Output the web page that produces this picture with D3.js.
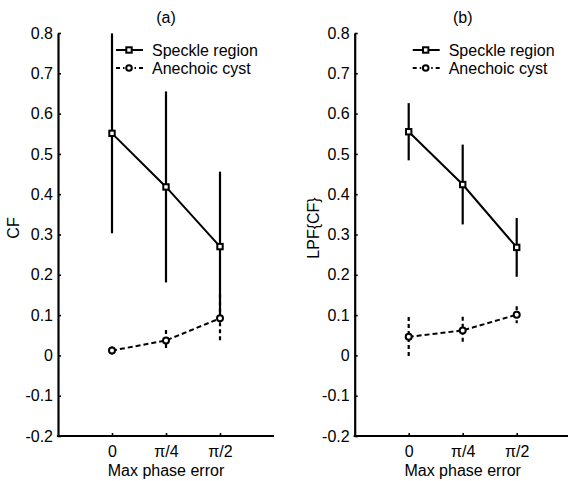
<!DOCTYPE html>
<html>
<head>
<meta charset="utf-8">
<script src="https://cdn.jsdelivr.net/npm/d3@7"></script>
<style>
  html, body { margin: 0; padding: 0; background: #fff; }
  text { font-family: Arial, "Liberation Sans", sans-serif; fill: #000; }
</style>
</head>
<body>
<svg id="chart" width="568" height="481"></svg>
<script>
// ---- data ----
const xPositions = [0, 1, 2];
const xTickLabels = ["0", "\u03c0/4", "\u03c0/2"];
const yTickValues = [-0.2, -0.1, 0, 0.1, 0.2, 0.3, 0.4, 0.5, 0.6, 0.7, 0.8];
const yTickLabels = ["-0.2", "-0.1", "0", "0.1", "0.2", "0.3", "0.4", "0.5", "0.6", "0.7", "0.8"];
const seriesNames = ["Speckle region", "Anechoic cyst"];

// panel (a): CF
const speckleA = [0.551, 0.418, 0.270];
const speckleAErr = [0.248, 0.237, 0.186];
const cystA = [0.012, 0.037, 0.092];
const cystAErr = [0.010, 0.026, 0.060];

// panel (b): LPF{CF}
const speckleB = [0.555, 0.424, 0.268];
const speckleBErr = [0.071, 0.099, 0.073];
const cystB = [0.046, 0.062, 0.101];
const cystBErr = [0.049, 0.034, 0.021];

const panelTitles = ["(a)", "(b)"];
const yLabels = ["CF", "LPF{CF}"];
const xLabel = "Max phase error";

// ---- layout ----
const svg = d3.select("#chart");
const panels = [
  { left: 58, title: panelTitles[0], ylab: yLabels[0], ylabX: 19,
    s: speckleA, se: speckleAErr, c: cystA, ce: cystAErr },
  { left: 354.7, title: panelTitles[1], ylab: yLabels[1], ylabX: 319,
    s: speckleB, se: speckleBErr, c: cystB, ce: cystBErr }
];
const plotTop = 33, plotBottom = 436, plotW = 216;

panels.forEach(p => {
  const x = d3.scaleLinear().domain([-1, 3]).range([p.left, p.left + plotW]);
  const y = d3.scaleLinear().domain([-0.2, 0.8]).range([plotBottom, plotTop]);
  const g = svg.append("g");

  // y axis
  const yAxis = d3.axisLeft(y)
    .tickValues(yTickValues)
    .tickFormat((d, i) => yTickLabels[i])
    .tickSizeInner(-3).tickSizeOuter(0).tickPadding(5);
  const ya = g.append("g").attr("transform", `translate(${p.left},0)`).call(yAxis);
  ya.select(".domain").attr("stroke-width", 2.2).attr("stroke", "#000");
  ya.selectAll(".tick line").attr("stroke-width", 1.6);
  ya.selectAll(".tick text").style("font-size", "16px").attr("fill", "#000");

  // x axis
  const xAxis = d3.axisBottom(x)
    .tickValues(xPositions)
    .tickFormat((d, i) => xTickLabels[i])
    .tickSizeInner(-3).tickSizeOuter(0).tickPadding(10);
  const xa = g.append("g").attr("transform", `translate(0,${plotBottom})`).call(xAxis);
  xa.select(".domain").attr("stroke-width", 2.2).attr("stroke", "#000")
    .attr("d", `M${p.left - 1.1},0H${p.left + plotW}`);
  xa.selectAll(".tick line").attr("stroke-width", 1.6);
  xa.selectAll(".tick text").style("font-size", "16px").attr("fill", "#000");

  // title
  g.append("text").attr("x", (p.left + p.left + plotW) / 2).attr("y", 23)
    .attr("text-anchor", "middle").style("font-size", "16px").text(p.title);
  // x label
  g.append("text").attr("x", x(1)).attr("y", 476)
    .attr("text-anchor", "middle").style("font-size", "16px").text(xLabel);
  // y label
  g.append("text").attr("transform", `translate(${p.ylabX},228) rotate(-90)`)
    .attr("text-anchor", "middle").style("font-size", "16px").text(p.ylab);

  // error bars
  g.selectAll(".errS").data(xPositions).join("line")
    .attr("x1", d => x(d)).attr("x2", d => x(d))
    .attr("y1", (d, i) => y(p.s[i] + p.se[i]))
    .attr("y2", (d, i) => y(p.s[i] - p.se[i]))
    .attr("stroke", "#000").attr("stroke-width", 2.2);
  g.selectAll(".errC").data(xPositions).join("line")
    .attr("x1", d => x(d)).attr("x2", d => x(d))
    .attr("y1", (d, i) => y(p.c[i] + p.ce[i]))
    .attr("y2", (d, i) => y(p.c[i] - p.ce[i]))
    .attr("stroke", "#000").attr("stroke-width", 2.2).attr("stroke-dasharray", "4,3");

  // lines
  const line = d3.line().x((d, i) => x(xPositions[i])).y(d => y(d));
  g.append("path").attr("d", line(p.s)).attr("fill", "none")
    .attr("stroke", "#000").attr("stroke-width", 2);
  g.append("path").attr("d", line(p.c)).attr("fill", "none")
    .attr("stroke", "#000").attr("stroke-width", 2).attr("stroke-dasharray", "5,3");

  // markers
  g.selectAll(".mS").data(p.s).join("rect")
    .attr("x", (d, i) => x(xPositions[i]) - 2.7).attr("y", d => y(d) - 2.7)
    .attr("width", 5.4).attr("height", 5.4)
    .attr("fill", "#fff").attr("stroke", "#000").attr("stroke-width", 2);
  g.selectAll(".mC").data(p.c).join("circle")
    .attr("cx", (d, i) => x(xPositions[i])).attr("cy", d => y(d)).attr("r", 3)
    .attr("fill", "#fff").attr("stroke", "#000").attr("stroke-width", 2);

  // legend
  const lx0 = p.left + 58, lx1 = p.left + 85, lmid = p.left + 71, ltx = p.left + 94;
  const ly = [50, 68];
  g.append("line").attr("x1", lx0).attr("x2", lx1).attr("y1", ly[0]).attr("y2", ly[0])
    .attr("stroke", "#000").attr("stroke-width", 2);
  g.append("rect").attr("x", lmid - 2.7).attr("y", ly[0] - 2.7).attr("width", 5.4).attr("height", 5.4)
    .attr("fill", "#fff").attr("stroke", "#000").attr("stroke-width", 2);
  g.append("line").attr("x1", lx0).attr("x2", lx1).attr("y1", ly[1]).attr("y2", ly[1])
    .attr("stroke", "#000").attr("stroke-width", 2).attr("stroke-dasharray", "4,3,1.5,3");
  g.append("circle").attr("cx", lmid).attr("cy", ly[1]).attr("r", 2.8)
    .attr("fill", "#fff").attr("stroke", "#000").attr("stroke-width", 2);
  seriesNames.forEach((n, i) => {
    g.append("text").attr("x", ltx).attr("y", ly[i] + 5.5).style("font-size", "16px").text(n);
  });
});
</script>
</body>
</html>
